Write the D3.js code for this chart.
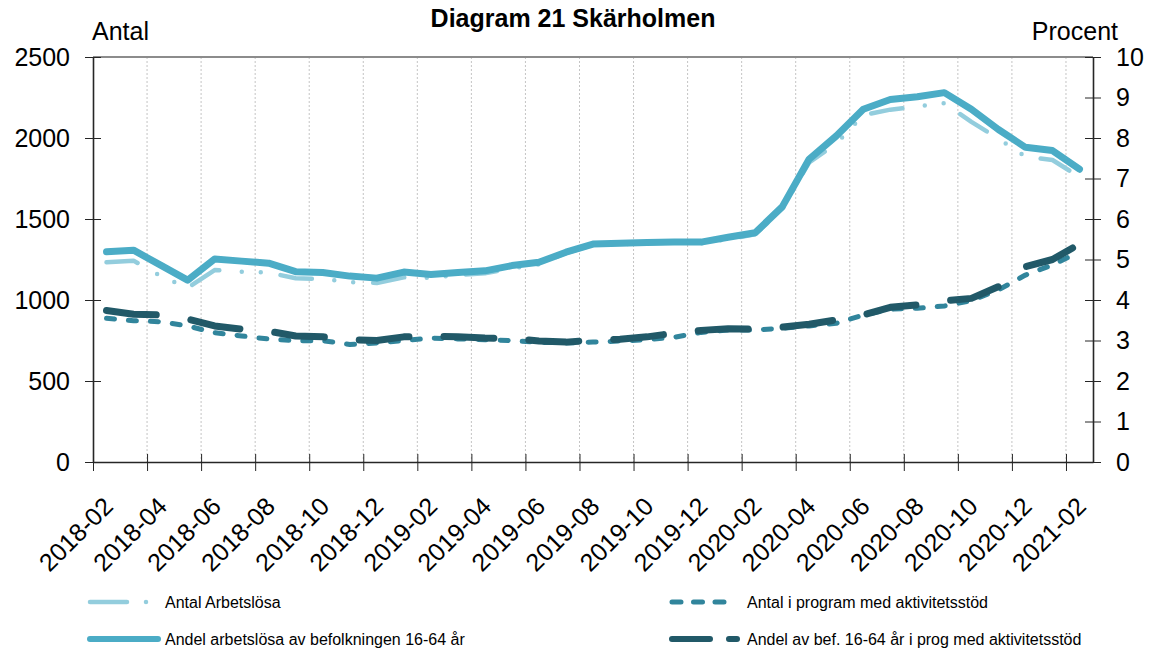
<!DOCTYPE html>
<html>
<head>
<meta charset="utf-8">
<script src="https://cdn.jsdelivr.net/npm/d3@7"></script>
<style>
  body { margin: 0; background: #fff; }
  svg { display: block; font-family: "Liberation Sans", Arial, sans-serif; }
</style>
</head>
<body>
<svg id="chart" width="1154" height="654"></svg>
<script>
// månader 2018-02 .. 2021-02
const months = [
  "2018-02", "2018-03", "2018-04", "2018-05", "2018-06", "2018-07", "2018-08", "2018-09", "2018-10", "2018-11", "2018-12",
  "2019-01", "2019-02", "2019-03", "2019-04", "2019-05", "2019-06", "2019-07", "2019-08", "2019-09", "2019-10", "2019-11", "2019-12",
  "2020-01", "2020-02", "2020-03", "2020-04", "2020-05", "2020-06", "2020-07", "2020-08", "2020-09", "2020-10", "2020-11", "2020-12",
  "2021-01", "2021-02"
];

// Antal Arbetslösa (vänster axel)
const antalArbetslosa = [1233, 1243, 1148, 1074, 1185, 1175, 1169, 1134, 1130, 1111, 1105, 1140, 1136,
  1155, 1165, 1195, 1220, 1290, 1340, 1345, 1350, 1355, 1350, 1375, 1405, 1560, 1850, 1965,
  2142, 2175, 2195, 2215, 2100, 1995, 1885, 1864, 1760];
// Andel arbetslösa av befolkningen 16-64 år (höger axel, procent)
const andelArbetslosa = [5.19, 5.23, 4.86, 4.49, 5.01, 4.96, 4.91, 4.70, 4.68, 4.59, 4.54, 4.69, 4.63,
  4.68, 4.72, 4.85, 4.93, 5.18, 5.38, 5.40, 5.42, 5.43, 5.43, 5.55, 5.66, 6.30, 7.48, 8.05,
  8.71, 8.95, 9.02, 9.12, 8.71, 8.21, 7.77, 7.69, 7.23];
// Antal i program med aktivitetsstöd (vänster axel)
const antalProgram = [887, 872, 866, 840, 798, 778, 759, 749, 749, 725, 735, 750, 765,
  760, 755, 749, 739, 735, 740, 747, 755, 770, 800, 815, 815, 825, 840, 856,
  907, 943, 949, 963, 996, 1062, 1154, 1216, 1298];
// Andel av bef. 16-64 år i prog med aktivitetsstöd (höger axel, procent)
const andelProgram = [3.74, 3.65, 3.63, 3.53, 3.36, 3.28, 3.23, 3.11, 3.09, 3.02, 3.00, 3.09, 3.11,
  3.09, 3.06, 3.05, 2.99, 2.96, 3.01, 3.03, 3.09, 3.18, 3.25, 3.29, 3.28, 3.33, 3.40, 3.51,
  3.63, 3.82, 3.88, 3.98, 4.04, 4.33, 4.82, 5.00, 5.38];

const leftTicks = [0, 500, 1000, 1500, 2000, 2500];
const rightTicks = [0, 1, 2, 3, 4, 5, 6, 7, 8, 9, 10];
const legendLabels = ["Antal Arbetslösa", "Andel arbetslösa av befolkningen 16-64 år",
  "Antal i program med aktivitetsstöd", "Andel av bef. 16-64 år i prog med aktivitetsstöd"];

const svg = d3.select("#chart");
const plotLeft = 93, plotRight = 1093, plotTop = 57, plotBottom = 462;

const x = d3.scaleLinear().domain([0, months.length]).range([plotLeft, plotRight]);
const yL = d3.scaleLinear().domain([0, 2500]).range([plotBottom, plotTop]);
const yR = d3.scaleLinear().domain([0, 10]).range([plotBottom, plotTop]);

const tickIdx = d3.range(0, months.length, 2);

// vertikala stödlinjer
svg.append("g").selectAll("line")
  .data(tickIdx.filter(i => i > 0))
  .join("line")
  .attr("x1", d => x(d)).attr("x2", d => x(d))
  .attr("y1", plotTop).attr("y2", plotBottom)
  .attr("stroke", "#c4c4c4").attr("stroke-width", 1)
  .attr("stroke-dasharray", "2,2");

// övre kant
svg.append("line")
  .attr("x1", plotLeft).attr("x2", plotRight).attr("y1", plotTop).attr("y2", plotTop)
  .attr("stroke", "#8c8c8c").attr("stroke-width", 2);

// axlar
const xAxis = svg.append("g")
  .attr("transform", `translate(0,${plotBottom})`)
  .call(d3.axisBottom(x).tickValues(tickIdx).tickFormat(i => months[i]).tickSizeOuter(0));
xAxis.select(".domain").attr("stroke", "#262626").attr("stroke-width", 1.6);
xAxis.selectAll(".tick line").attr("y1", -8).attr("y2", 9).attr("stroke", "#262626");
xAxis.selectAll(".tick text")
  .attr("x", null).attr("y", null).attr("dy", null)
  .attr("text-anchor", "end")
  .attr("transform", "translate(21,46) rotate(-45)")
  .attr("font-size", 25).attr("fill", "#000")
  .attr("font-family", "Liberation Sans, Arial, sans-serif");

const yAxisL = svg.append("g")
  .attr("transform", `translate(${plotLeft},0)`)
  .call(d3.axisLeft(yL).tickValues(leftTicks).tickFormat(d3.format("d")).tickSizeOuter(0));
yAxisL.select(".domain").attr("stroke", "#262626").attr("stroke-width", 1.6);
yAxisL.selectAll(".tick line").attr("x1", 8).attr("x2", -8).attr("stroke", "#262626");
yAxisL.selectAll(".tick text").attr("x", -23).attr("font-size", 25).attr("fill", "#000")
  .attr("font-family", "Liberation Sans, Arial, sans-serif");

const yAxisR = svg.append("g")
  .attr("transform", `translate(${plotRight},0)`)
  .call(d3.axisRight(yR).tickValues(rightTicks).tickFormat(d3.format("d")).tickSizeOuter(0));
yAxisR.select(".domain").attr("stroke", "#262626").attr("stroke-width", 1.6);
yAxisR.selectAll(".tick line").attr("x1", -8).attr("x2", 8).attr("stroke", "#262626");
yAxisR.selectAll(".tick text").attr("x", 23).attr("font-size", 25).attr("fill", "#000")
  .attr("font-family", "Liberation Sans, Arial, sans-serif");

// axeltitlar och rubrik
svg.append("text").attr("x", 92).attr("y", 40).attr("font-size", 25).text("Antal");
svg.append("text").attr("x", 1118).attr("y", 40).attr("font-size", 25)
  .attr("text-anchor", "end").text("Procent");
svg.append("text").attr("x", 573).attr("y", 27).attr("font-size", 25)
  .attr("font-weight", "bold").attr("text-anchor", "middle").text("Diagram 21 Skärholmen");

// serier
const series = [
  { values: antalArbetslosa, y: yL, color: "#93cddd", width: 4.5, dash: "31.7 22.5 0 19 0 20" },
  { values: antalProgram, y: yL, color: "#31859c", width: 5, dash: "8 14" },
  { values: andelArbetslosa, y: yR, color: "#4bacc6", width: 7, dash: null },
  { values: andelProgram, y: yR, color: "#215968", width: 7, dash: "50 35" }
];

series.forEach(s => {
  const line = d3.line().x((d, i) => x(i + 0.5)).y(d => s.y(d));
  svg.append("path")
    .datum(s.values)
    .attr("d", line)
    .attr("fill", "none")
    .attr("stroke", s.color)
    .attr("stroke-width", s.width)
    .attr("stroke-linecap", "round")
    .attr("stroke-linejoin", "round")
    .attr("stroke-dasharray", s.dash);
});

// förklaring
const legendItems = [
  { label: legendLabels[0], color: "#93cddd", width: 4.5, x: 90, y: 602, len: 62, dash: "37 19 0 40" },
  { label: legendLabels[1], color: "#4bacc6", width: 6, x: 90, y: 639, len: 68, dash: null },
  { label: legendLabels[2], color: "#31859c", width: 5, x: 672, y: 602, len: 64, dash: "9 12.5" },
  { label: legendLabels[3], color: "#215968", width: 6, x: 672, y: 639, len: 68, dash: "38 19 8 20" }
];
const lg = svg.append("g").selectAll("g").data(legendItems).join("g");
lg.append("line")
  .attr("x1", d => d.x).attr("x2", d => d.x + d.len)
  .attr("y1", d => d.y).attr("y2", d => d.y)
  .attr("stroke", d => d.color).attr("stroke-width", d => d.width)
  .attr("stroke-linecap", "round")
  .attr("stroke-dasharray", d => d.dash);
lg.append("text")
  .attr("x", d => d.x + 75).attr("y", d => d.y + 5.5)
  .attr("font-size", 16).attr("fill", "#000")
  .text(d => d.label);
</script>
</body>
</html>
